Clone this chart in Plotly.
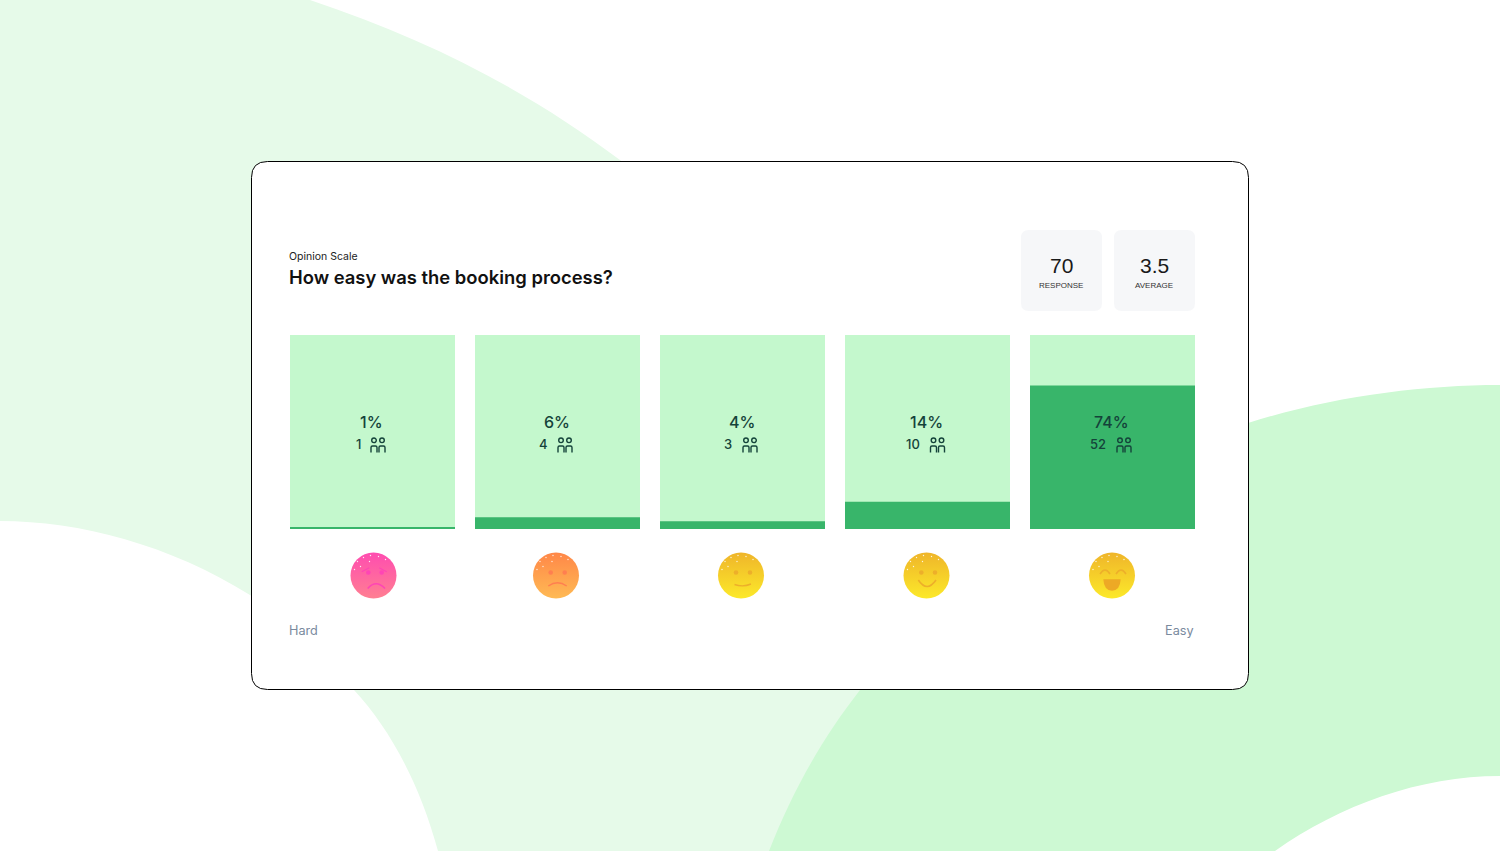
import plotly.graph_objects as go

# values
categories = ["rating 1", "rating 2", "rating 3", "rating 4", "rating 5"]
percents = [1, 6, 4, 14, 74]
counts = [1, 4, 3, 10, 52]
track = [100, 100, 100, 100, 100]
stat_values = ["70", "3.5"]
stat_labels = ["RESPONSE", "AVERAGE"]

W, H = 1500, 851
LIGHT = "#E6FAE9"
MID = "#CDF9D3"
TRACK = "#C4F8CD"
BAR = "#38B56A"
INK = "#14433A"
FONT = "Inter"

shapes = []


def path(d, fill=None, line=None, width=0, layer="below"):
    shapes.append(
        dict(
            type="path",
            path=d,
            xref="x",
            yref="y",
            fillcolor=fill or "rgba(0,0,0,0)",
            line=dict(color=line or "rgba(0,0,0,0)", width=width),
            layer=layer,
        )
    )


def circle(cx, cy, r, fill=None, line=None, width=0):
    shapes.append(
        dict(
            type="circle",
            xref="x",
            yref="y",
            x0=cx - r,
            x1=cx + r,
            y0=cy - r,
            y1=cy + r,
            fillcolor=fill or "rgba(0,0,0,0)",
            line=dict(color=line or "rgba(0,0,0,0)", width=width),
            layer="above",
        )
    )


def round_rect(x0, y0, x1, y1, r, fill, line=None, width=0):
    d = (
        f"M{x0 + r},{y0} L{x1 - r},{y0} Q{x1},{y0} {x1},{y0 + r} L{x1},{y1 - r} Q{x1},{y1} {x1 - r},{y1} "
        f"L{x0 + r},{y1} Q{x0},{y1} {x0},{y1 - r} L{x0},{y0 + r} Q{x0},{y0} {x0 + r},{y0} Z"
    )
    path(d, fill, line, width)


def people(cx):
    for x in [cx - 4, cx + 4]:
        circle(x, 440.3, 2.3, None, INK, 1.4)
        path(
            f"M{x - 3},452.5 L{x - 3},447.5 Q{x - 3},446 {x - 1.5},446 L{x + 1.5},446 "
            f"Q{x + 3},446 {x + 3},447.5 L{x + 3},452.5",
            None,
            INK,
            1.4,
            "above",
        )


# background blobs
path(
    "M0,0 L310,0 C430,40 530,92 620,160 L900,400 L900,851 L438,851 "
    "C420,785 391,730 354,690 C322,650 285,618 250,595 C170,545 80,521 0,521 Z",
    LIGHT,
)
path(
    "M769,851 C795,785 825,735 860,690 L1000,500 L1248,423 C1330,397 1420,385 1500,385 "
    "L1500,776 C1420,776 1340,805 1275,851 Z",
    MID,
)

# card and stat boxes
round_rect(251.5, 161.5, 1248.5, 689.5, 16, "white", "#000000", 1)
round_rect(1021, 230, 1102, 311, 8, "#F6F7F9")
round_rect(1114, 230, 1195, 311, 8, "#F6F7F9")

# people icons next to the counts
for cx in [378, 565, 750, 937.5, 1124]:
    people(cx)

# faces
face_x = [373.5, 556, 741, 926.5, 1112]
face_y = 575.5
face_top = ["#FF4CB0", "#FF8748", "#EFB52A", "#EFB52A", "#EFB52A"]
face_bottom = ["#FF7F92", "#FFBA54", "#FCE92A", "#FCE92A", "#FCE92A"]
PINK_INK = "#FF45B5"
ORANGE_INK = "#FF7F50"
YELLOW_INK = "#EDAF2A"

for cx in face_x:
    for dx, dy in [(-16, -14), (-10, -18), (-3, -20), (5, -19), (12, -16), (-19, -6), (-13, -9), (-4, -14)]:
        circle(cx + dx, face_y + dy, 0.7, "rgba(255,255,255,0.85)")

# eyes
for x, color in [
    (368.3, PINK_INK),
    (381.7, PINK_INK),
    (550.7, ORANGE_INK),
    (564.7, ORANGE_INK),
    (736, YELLOW_INK),
    (750, YELLOW_INK),
    (921.3, YELLOW_INK),
    (935, YELLOW_INK),
]:
    circle(x, 572.5, 2.3, color)

# brows and mouths
path("M361.7,571.7 Q365,570 369.3,567.7", None, PINK_INK, 1.2, "above")
path("M386.7,571.7 Q383,570 379.3,567.7", None, PINK_INK, 1.2, "above")
path("M367.7,588.5 Q376,579 385,588.5", None, PINK_INK, 1.6, "above")
path("M548.3,586 Q557.5,579.5 566.7,586", None, ORANGE_INK, 1.4, "above")
path("M734.5,584.5 Q743,587.5 751,584", None, YELLOW_INK, 1.4, "above")
path("M918.3,580 Q927,593 936,580", None, YELLOW_INK, 1.6, "above")
path("M1100,574 Q1105,566 1110,574", None, YELLOW_INK, 1.6, "above")
path("M1116,574 Q1121,566 1126,574", None, YELLOW_INK, 1.6, "above")
path("M1103.3,579.3 L1120.7,579.3 Q1120,590.7 1112,590.7 Q1104,590.7 1103.3,579.3 Z", "#EDA925", None, 0, "above")

fig = go.Figure()

# px-based overlay holds the faces, bars live on their own category axes on top
fig.add_trace(
    go.Scatter(
        x=face_x,
        y=[face_y] * 5,
        mode="markers",
        marker=dict(
            size=46,
            color=face_top,
            gradient=dict(type="vertical", color=face_bottom),
            line=dict(width=0),
        ),
        hoverinfo="skip",
        showlegend=False,
    )
)
fig.add_trace(
    go.Bar(x=categories, y=track, marker=dict(color=TRACK, line=dict(width=0)), xaxis="x2", yaxis="y2", showlegend=False)
)
fig.add_trace(
    go.Bar(x=categories, y=percents, marker=dict(color=BAR, line=dict(width=0)), xaxis="x2", yaxis="y2", showlegend=False)
)

annotations = []


def label(x, y, text, size, color, anchor="center", weight=None, family=FONT, xref="x", yref="y", xshift=0):
    annotations.append(
        dict(
            x=x,
            y=y,
            xref=xref,
            yref=yref,
            text=text,
            showarrow=False,
            xanchor=anchor,
            yanchor="middle",
            xshift=xshift,
            font=dict(size=size, color=color, family=family, weight=weight),
        )
    )


for cat, pct, n in zip(categories, percents, counts):
    label(cat, 55, f"{pct}%", 16, INK, weight=500, xref="x2", yref="y2", xshift=-1)
    label(cat, 44, str(n), 13, INK, weight=500, xref="x2", yref="y2", xshift=-14.5)

label(287, 256, "Opinion Scale", 10.5, "#222222", "left")
label(287, 277, "How easy was the booking process?", 18.4, "#111111", "left", 600)
label(287, 630, "Hard", 12.7, "#7A8A9E", "left")
label(1196, 630, "Easy", 12.7, "#7A8A9E", "right")

for cx, value, name in zip([1061, 1154], stat_values, stat_labels):
    label(cx, 265, value, 21, "#1A1A1A", family="Liberation Sans")
    label(cx, 285.5, name, 8, "#333333", family="Liberation Sans")

fig.update_layout(
    width=W,
    height=H,
    margin=dict(l=0, r=0, t=0, b=0),
    paper_bgcolor="white",
    plot_bgcolor="rgba(0,0,0,0)",
    barmode="overlay",
    bargap=20 / 185,
    shapes=shapes,
    annotations=annotations,
    xaxis=dict(range=[0, W], domain=[0, 1], visible=False, fixedrange=True),
    yaxis=dict(range=[H, 0], domain=[0, 1], visible=False, fixedrange=True),
    xaxis2=dict(domain=[280 / W, 1205 / W], anchor="y2", visible=False, type="category", range=[-0.5, 4.5]),
    yaxis2=dict(domain=[1 - 529 / H, 1 - 335 / H], anchor="x2", range=[0, 100], visible=False),
)

# the default page keeps an 8px body margin
fig.write_html(
    "out.html",
    config=dict(displayModeBar=False),
    post_script="document.body.style.margin = '0';",
)
